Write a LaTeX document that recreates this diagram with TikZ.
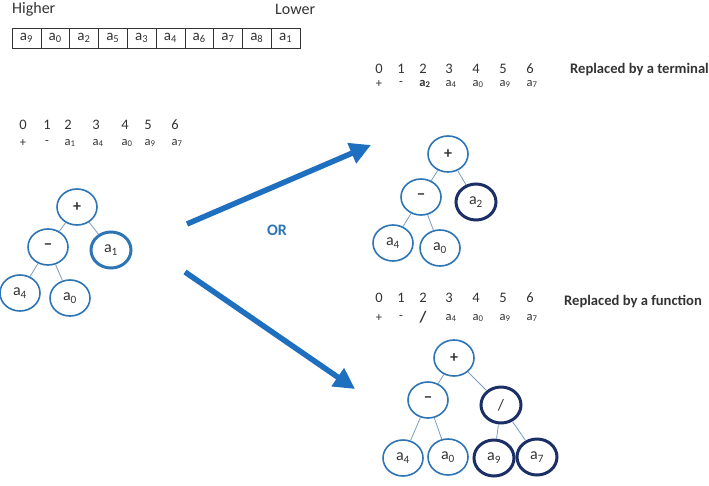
\documentclass[tikz,border=0pt]{standalone}
\usepackage{fontspec}
\setmainfont{Carlito}
\usetikzlibrary{arrows.meta,shapes.geometric}
\definecolor{nodeblue}{HTML}{2E75B6}
\definecolor{navy}{HTML}{1B2F66}
\definecolor{arrowblue}{HTML}{1F6FC0}
\definecolor{edgegray}{HTML}{7A9CC0}
\definecolor{txt}{HTML}{333333}
\newcommand{\av}[1]{a\textsubscript{#1}}
\tikzset{
  tn/.style={ellipse,draw=nodeblue,line width=1.6pt,minimum width=40pt,minimum height=36pt,inner sep=0pt,text=txt,font=\fontsize{16}{16}\selectfont},
  tnsel/.style={tn,line width=3pt},
  tnnew/.style={tn,draw=navy,line width=3pt},
  ed/.style={draw=edgegray,line width=0.8pt},
  dig/.style={text=txt,font=\fontsize{14.5}{14.5}\selectfont,inner sep=0pt},
  gene/.style={text=txt,font=\fontsize{12.5}{12.5}\selectfont,inner sep=0pt},
  cell/.style={draw=txt,line width=0.6pt,minimum width=28.8pt,minimum height=20pt,inner sep=0pt,text=txt,font=\fontsize{15}{15}\selectfont},
  bigarrow/.style={draw=arrowblue,line width=5.5pt,-{Triangle[length=21pt,width=21pt]}},
  ttl/.style={text=txt,font=\bfseries\fontsize{14.6}{14.6}\selectfont,inner sep=0pt},
  hdr/.style={text=txt,font=\fontsize{16}{16}\selectfont,inner sep=0pt}
}
\begin{document}
\begin{tikzpicture}[x=1pt,y=-1pt]
\useasboundingbox (0,0) rectangle (709,485);
% header
\node[hdr,anchor=west] (higher) at (12,9) {Higher};
\node[hdr,anchor=west] (lower) at (275,9) {Lower};
% array
\foreach \v [count=\i from 0] in {9,0,2,5,3,4,6,7,8,1} {
  \node[cell] (c\i) at (12+14.4+28.8*\i,38) {\av{\v}};
}
% left table
\foreach \d/\x in {0/23,1/47,2/68,3/96,4/125,5/148,6/175} {
  \node[dig] (ld\d) at (\x,125) {\d};
}
\node[gene] (lg0) at (23,143) {+};
\node[gene] (lg1) at (47,143) {-};
\node[gene] (lg2) at (70,143) {\av{1}};
\node[gene] (lg3) at (98,143) {\av{4}};
\node[gene] (lg4) at (127,143) {\av{0}};
\node[gene] (lg5) at (150,143) {\av{9}};
\node[gene] (lg6) at (177,143) {\av{7}};
% left tree
\node[tn] (Lp) at (77,207) {\textbf{+}};
\node[tn] (Lm) at (48,247) {\textbf{−}};
\node[tnsel] (La1) at (111,250) {\av{1}};
\node[tn] (La4) at (20,293) {\av{4}};
\node[tn] (La0) at (70,298) {\av{0}};
\draw[ed] (Lp) -- (Lm);
\draw[ed] (Lp) -- (La1);
\draw[ed] (Lm) -- (La4);
\draw[ed] (Lm) -- (La0);
% arrows
\coordinate (u0) at (187,224);
\coordinate (u1) at (371,145);
\coordinate (d0) at (185,272);
\coordinate (d1) at (355,389);
\draw[bigarrow] (u0) -- (u1);
\draw[bigarrow] (d0) -- (d1);
\node[text=nodeblue,font=\bfseries\fontsize{16}{16}\selectfont] (or) at (277,230) {OR};
% top right table
\foreach \d/\x in {0/379,1/401,2/423,3/449,4/476,5/503,6/530} {
  \node[dig] (td\d) at (\x,69) {\d};
}
\node[gene] (tg0) at (379,84) {+};
\node[gene] (tg1) at (401,84) {-};
\node[gene] (tg2) at (425,84) {\textbf{a\textsubscript{2}}};
\node[gene] (tg3) at (451,84) {\av{4}};
\node[gene] (tg4) at (478,84) {\av{0}};
\node[gene] (tg5) at (505,84) {\av{9}};
\node[gene] (tg6) at (532,84) {\av{7}};
\node[ttl,anchor=west] (tt) at (570,70) {Replaced by a terminal};
% top right tree
\node[tn] (Tp) at (448,154) {\textbf{+}};
\node[tn] (Tm) at (421,197) {\textbf{−}};
\node[tnnew] (Ta2) at (476,202) {\av{2}};
\node[tn] (Ta4) at (393,243) {\av{4}};
\node[tn] (Ta0) at (440,248) {\av{0}};
\draw[ed] (Tp) -- (Tm);
\draw[ed] (Tp) -- (Ta2);
\draw[ed] (Tm) -- (Ta4);
\draw[ed] (Tm) -- (Ta0);
% bottom right table
\foreach \d/\x in {0/379,1/401,2/423,3/449,4/476,5/503,6/530} {
  \node[dig] (bd\d) at (\x,298) {\d};
}
\node[gene] (bg0) at (379,318) {+};
\node[gene] (bg1) at (401,318) {-};
\node[gene,font=\bfseries\fontsize{16}{16}\selectfont] (bg2) at (423,317) {/};
\node[gene] (bg3) at (451,318) {\av{4}};
\node[gene] (bg4) at (478,318) {\av{0}};
\node[gene] (bg5) at (505,318) {\av{9}};
\node[gene] (bg6) at (532,318) {\av{7}};
\node[ttl,anchor=west] (bt) at (564,302) {Replaced by a function};
% bottom right tree
\node[tn] (Bp) at (454,358) {\textbf{+}};
\node[tn] (Bm) at (428,400) {\textbf{−}};
\node[tnnew] (Bd) at (501,405) {/};
\node[tn] (Ba4) at (403,458) {\av{4}};
\node[tn] (Ba0) at (448,457) {\av{0}};
\node[tnnew] (Ba9) at (494,458) {\av{9}};
\node[tnnew] (Ba7) at (537,457) {\av{7}};
\draw[ed] (Bp) -- (Bm);
\draw[ed] (Bp) -- (Bd);
\draw[ed] (Bm) -- (Ba4);
\draw[ed] (Bm) -- (Ba0);
\draw[ed] (Bd) -- (Ba9);
\draw[ed] (Bd) -- (Ba7);
\end{tikzpicture}
\end{document}
